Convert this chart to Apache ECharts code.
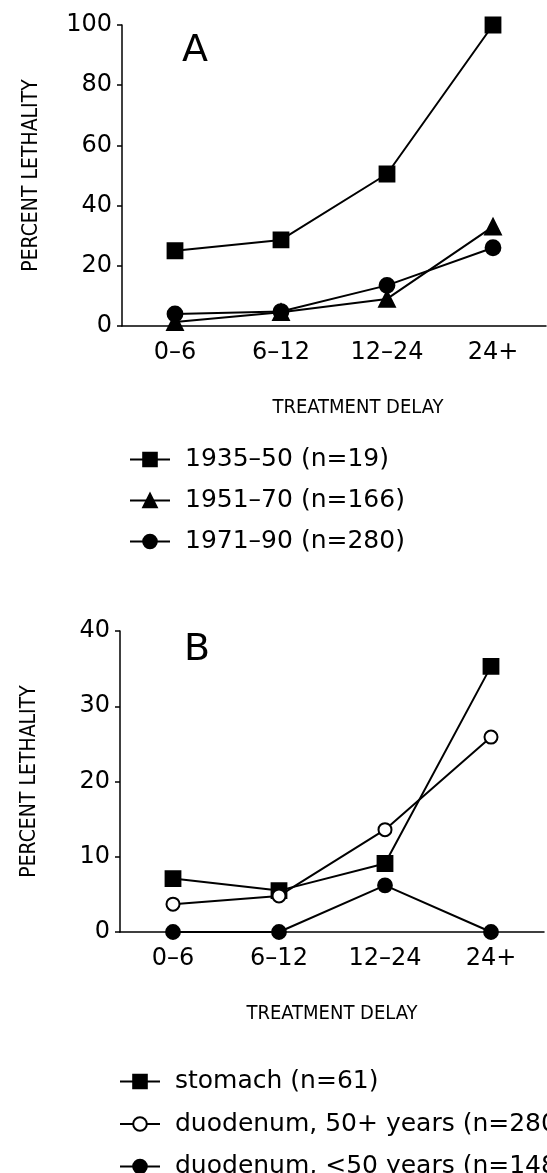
<!DOCTYPE html>
<html>
<head>
<meta charset="utf-8">
<script src="https://cdn.jsdelivr.net/npm/echarts@6/dist/echarts.min.js"></script>
<style>
html, body { margin: 0; padding: 0; background: #fff; }
#main { width: 547px; height: 1173px; }
</style>
</head>
<body>
<div id="main"></div>
<script>
// treatment delay categories (hours)
var delays = ['0–6', '6–12', '12–24', '24+'];

// panel A: percent lethality by period
var periodNames = ['1935–50 (n=19)', '1951–70 (n=166)', '1971–90 (n=280)'];
var p1935 = [25, 28.6, 50.5, 100];
var p1951 = [1.3, 4.6, 9, 33];
var p1971 = [4, 4.8, 13.5, 26];

// panel B: percent lethality by ulcer site
var siteNames = ['stomach (n=61)', 'duodenum, 50+ years (n=280)', 'duodenum, <50 years (n=148)'];
var stomach = [7.1, 5.5, 9.1, 35.3];
var duoOld = [3.7, 4.8, 13.6, 25.9];
var duoYoung = [0, 0, 6.2, 0];

var yTicksA = { min: 0, max: 100, interval: 20 };
var yTicksB = { min: 0, max: 40, interval: 10 };

var chartDom = document.getElementById('main');
var myChart = echarts.init(chartDom, null, { renderer: 'canvas' });

var font = 'DejaVu Sans';
var capsFont = '"Liberation Sans Narrow", "DejaVu Sans Condensed", "DejaVu Sans"';

function xAxisFor(idx, namePad) {
	return {
		gridIndex: idx,
		type: 'category',
		data: delays,
		boundaryGap: true,
		name: 'TREATMENT DELAY',
		nameLocation: 'middle',
		nameGap: 72,
		nameTextStyle: { fontFamily: capsFont, fontSize: 20, color: '#000', padding: namePad },
		axisLine: { lineStyle: { color: '#000', width: 1.5 } },
		axisTick: { inside: true, alignWithLabel: true, length: 6, lineStyle: { color: '#000', width: 1.5 } },
		axisLabel: { color: '#000', fontFamily: font, fontSize: 24, margin: 15 },
		splitLine: { show: false }
	};
}

function yAxisFor(idx, ticks) {
	return {
		gridIndex: idx,
		type: 'value',
		min: ticks.min,
		max: ticks.max,
		interval: ticks.interval,
		name: 'PERCENT LETHALITY',
		nameLocation: 'middle',
		nameGap: 80,
		nameTextStyle: { fontFamily: capsFont, fontSize: 21, color: '#000' },
		axisLine: { show: true, lineStyle: { color: '#000', width: 1.5 } },
		axisTick: { show: true, length: 5, lineStyle: { color: '#000', width: 1.5 } },
		axisLabel: { color: '#000', fontFamily: font, fontSize: 24, margin: 10 },
		splitLine: { show: false }
	};
}

function lineSeries(name, data, idx, symbol, size) {
	return {
		name: name,
		type: 'line',
		xAxisIndex: idx,
		yAxisIndex: idx,
		data: data,
		symbol: symbol,
		symbolSize: size,
		clip: false,
		lineStyle: { color: '#000', width: 2 },
		itemStyle: { color: '#000', borderColor: '#000', borderWidth: 1.8 },
		emphasis: { disabled: true }
	};
}

var legendBase = {
	orient: 'vertical',
	height: 200,
	itemWidth: 40,
	itemHeight: 17,
	textStyle: { fontFamily: font, fontSize: 25, color: '#000', lineHeight: 20, padding: [0, 0, 0, 10] }
};

var option = {
	backgroundColor: '#fff',
	animation: false,
	title: [{
		text: 'A',
		left: 177,
		top: 27,
		textStyle: { fontFamily: font, fontSize: 38, fontWeight: 'normal', color: '#000' }
	}, {
		text: 'B',
		left: 179,
		top: 626,
		textStyle: { fontFamily: font, fontSize: 38, fontWeight: 'normal', color: '#000' }
	}],
	grid: [
		{ left: 122, top: 25, width: 424, height: 301 },
		{ left: 120, top: 631, width: 424, height: 301 }
	],
	xAxis: [xAxisFor(0, [0, 0, 0, 48]), xAxisFor(1, [0, 0, 0, 0])],
	yAxis: [yAxisFor(0, yTicksA), yAxisFor(1, yTicksB)],
	legend: [
		Object.assign({}, legendBase, { left: 124, top: 442, itemGap: 16, data: periodNames }),
		Object.assign({}, legendBase, { left: 114, top: 1064, itemGap: 17.5, data: siteNames })
	],
	series: [
		lineSeries(periodNames[0], p1935, 0, 'rect', 15),
		lineSeries(periodNames[1], p1951, 0, 'triangle', 16),
		lineSeries(periodNames[2], p1971, 0, 'circle', 15),
		lineSeries(siteNames[0], stomach, 1, 'rect', 15),
		lineSeries(siteNames[1], duoOld, 1, 'emptyCircle', 13),
		lineSeries(siteNames[2], duoYoung, 1, 'circle', 14)
	]
};

option && myChart.setOption(option);
</script>
</body>
</html>
